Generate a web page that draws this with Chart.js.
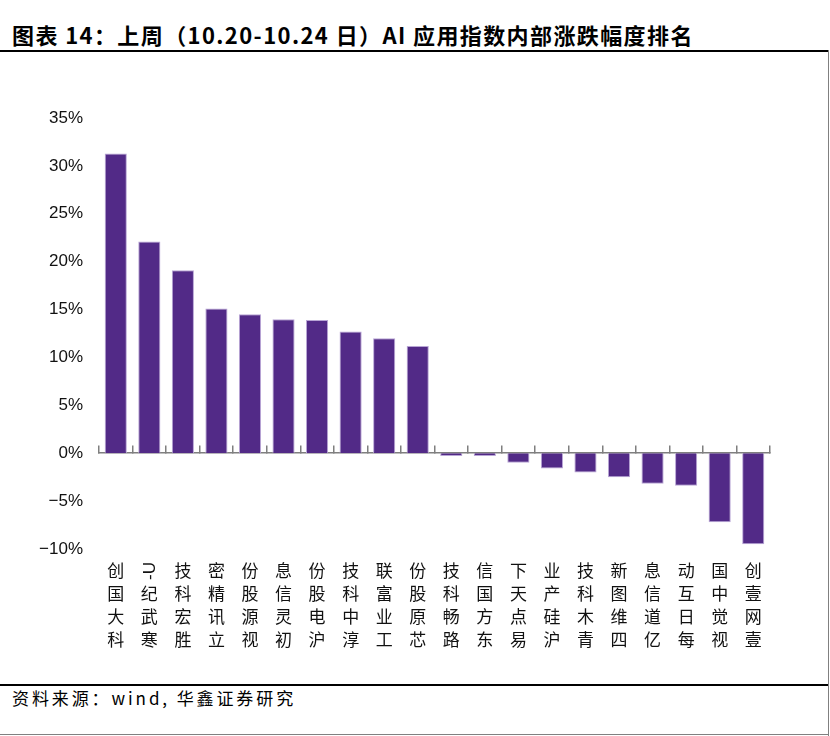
<!DOCTYPE html>
<html>
<head>
<meta charset="utf-8">
<script src="https://cdn.jsdelivr.net/npm/chart.js@4.4.1/dist/chart.umd.min.js"></script>
<style>
  html, body { margin: 0; padding: 0; background: #fff; }
  body { width: 830px; height: 736px; position: relative; overflow: hidden; }
  .title {
    position: absolute; left: 12px; top: 20px;
    font: bold 22px "Noto Sans CJK SC", sans-serif; color: #000;
    letter-spacing: 1.4px; white-space: nowrap; line-height: 28px;
  }
  .line-top { position: absolute; left: 0; top: 50px; width: 829px; height: 2px; background: #000; }
  .line-bottom { position: absolute; left: 0; top: 684px; width: 829px; height: 2px; background: #000; }
  .line-right { position: absolute; left: 828px; top: 50px; width: 1px; height: 686px; background: #808080; }
  .line-last { position: absolute; left: 0; top: 734px; width: 829px; height: 1px; background: #808080; }
  .source {
    position: absolute; left: 12px; top: 686px;
    font: 17px "Noto Sans CJK SC", sans-serif; color: #000;
    letter-spacing: 2.9px; white-space: nowrap; line-height: 24px;
  }
  .chart-box { position: absolute; left: 0; top: 52px; width: 828px; height: 632px; }
</style>
</head>
<body>
<div class="title">图表 14：上周（10.20-10.24 日）AI 应用指数内部涨跌幅度排名</div>
<div class="line-top"></div>
<div class="chart-box"><canvas id="chart"></canvas></div>
<div class="line-bottom"></div>
<div class="source">资料来源：wind, 华鑫证券研究</div>
<div class="line-right"></div>
<div class="line-last"></div>

<script>
// 股票名称 & 周涨跌幅 (%)
const stockNames = ['科大国创', '寒武纪-U', '胜宏科技', '立讯精密', '视源股份', '初灵信息', '沪电股份',
    '淳中科技', '工业富联', '芯原股份', '路畅科技', '东方国信', '易点天下', '沪硅产业', '青木科技',
    '四维图新', '亿道信息', '每日互动', '视觉中国', '壹网壹创'];
const weeklyChange = [31.3, 22.1, 19.1, 15.1, 14.5, 14.0, 13.9, 12.7, 12.0, 11.2,
    -0.3, -0.3, -1.0, -1.6, -2.0, -2.5, -3.2, -3.4, -7.2, -9.5];
const yTicks = [-10, -5, 0, 5, 10, 15, 20, 25, 30, 35];

// split a label into upright CJK chars and latin runs
function splitTokens(label) {
    const tokens = [];
    let run = '';
    for (const ch of label) {
        if (/[\u4e00-\u9fff]/.test(ch)) {
            if (run) { tokens.push({ text: run, latin: true }); run = ''; }
            tokens.push({ text: ch, latin: false });
        } else {
            run += ch;
        }
    }
    if (run) tokens.push({ text: run, latin: true });
    return tokens;
}

// vertical labels, read from bottom to top like the excel original
const verticalLabels = {
    id: 'verticalLabels',
    afterDraw(chart) {
        const ctx = chart.ctx;
        const xs = chart.scales.x;
        const top = chart.chartArea.bottom + 22;
        const pitch = 23;
        ctx.save();
        ctx.fillStyle = '#111';
        ctx.textAlign = 'center';
        ctx.textBaseline = 'middle';
        stockNames.forEach((name, i) => {
            const x = xs.getPixelForValue(i);
            const tokens = splitTokens(name).reverse();
            tokens.forEach((t, j) => {
                const y = top + j * pitch;
                if (t.latin) {
                    ctx.font = '17px "Liberation Sans", Arial, sans-serif';
                    ctx.save();
                    ctx.translate(x, y);
                    ctx.rotate(-Math.PI / 2);
                    ctx.fillText(t.text, 0, 1);
                    ctx.restore();
                } else {
                    ctx.font = '17px "Noto Sans CJK SC", sans-serif';
                    ctx.fillText(t.text, x, y);
                }
            });
        });
        ctx.restore();
    }
};

const ctx = document.getElementById('chart').getContext('2d');
new Chart(ctx, {
    type: 'bar',
    data: {
        labels: stockNames,
        datasets: [{
            data: weeklyChange,
            backgroundColor: '#522a87',
            borderColor: '#b8a5d5',
            borderWidth: 1,
            barPercentage: 0.66,
            categoryPercentage: 1
        }]
    },
    options: {
        responsive: true,
        maintainAspectRatio: false,
        animation: false,
        layout: {
            padding: { top: 66, bottom: 135, left: 0, right: 58 }
        },
        plugins: {
            legend: { display: false },
            tooltip: { enabled: false }
        },
        scales: {
            x: {
                type: 'category',
                position: { y: 0 },
                grid: {
                    offset: true,
                    drawOnChartArea: false,
                    drawTicks: true,
                    tickLength: -8,
                    color: '#7f7f7f',
                    lineWidth: 1.5
                },
                border: { display: true, color: '#7f7f7f', width: 1.5 },
                ticks: { display: false }
            },
            y: {
                min: -10,
                max: 35,
                afterFit: scale => { scale.width = 99; },
                afterBuildTicks: scale => { scale.ticks = yTicks.map(v => ({ value: v })); },
                grid: { display: false },
                border: { display: false },
                ticks: {
                    padding: 8,
                    color: '#111',
                    font: { family: '"Liberation Sans", Arial, sans-serif', size: 17 },
                    callback: v => (v < 0 ? '\u2212' + Math.abs(v) : v) + '%'
                }
            }
        }
    },
    plugins: [verticalLabels]
});
</script>
</body>
</html>
